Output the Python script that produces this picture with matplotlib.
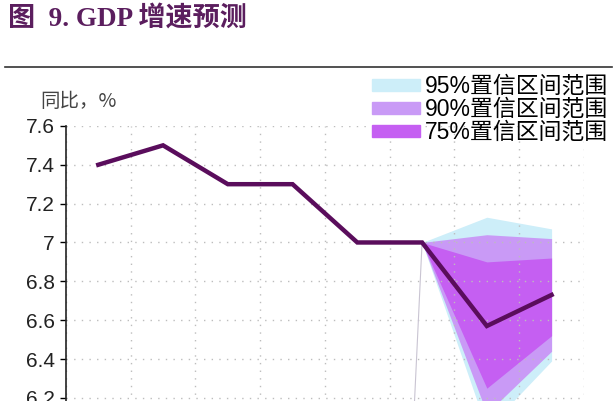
import numpy as np
import matplotlib.pyplot as plt
from matplotlib.patches import Patch
from matplotlib.lines import Line2D

# GDP growth, yoy %
gdp = [7.4, 7.5, 7.3, 7.3, 7.0, 7.0, 6.57, 6.73]

# fan chart bands (start at last actual point)
fan_x = [5, 6, 7]
ci95_hi = [7.0, 7.13, 7.07]
ci95_lo = [7.0, 6.04, 6.39]
ci90_hi = [7.0, 7.04, 7.02]
ci90_lo = [7.0, 6.12, 6.44]
ci75_hi = [7.0, 6.90, 6.92]
ci75_lo = [7.0, 6.25, 6.52]

# stacked-area base edge left over in the original
base_x = [4, 5]
base_y = [0.0, 7.0]

yticks = [5.8, 6.0, 6.2, 6.4, 6.6, 6.8, 7.0, 7.2, 7.4, 7.6]
ytick_labels = ['5.8', '6', '6.2', '6.4', '6.6', '6.8', '7', '7.2', '7.4', '7.6']

latin = ['Liberation Sans', 'Noto Sans CJK SC']

fig = plt.figure(figsize=(6.16, 4.01), dpi=100)
ax = fig.add_axes([0.107, -0.186, 0.841, 0.872])

x = np.arange(len(gdp))

# fan
ax.fill_between(fan_x, ci95_lo, ci95_hi, color='#cdeef9', lw=0)
ax.fill_between(fan_x, ci90_lo, ci90_hi, color='#c99af6', lw=0)
ax.fill_between(fan_x, ci75_lo, ci75_hi, color='#c55ff2', lw=0)
ax.plot(base_x, base_y, color='#c9c4d2', lw=0.8)

# main line
ax.plot(x, gdp, color='#5a0d5c', lw=3.2, solid_joinstyle='miter', zorder=5)

ax.set_xlim(-0.5, 7.5)
ax.set_ylim(5.8, 7.6)
ax.set_yticks(yticks)
ax.set_yticklabels(ytick_labels, family=latin, fontsize=15, color='#222222')
ax.set_xticks(np.arange(-0.5, 7.6, 1.0))
ax.set_xticklabels([])
ax.tick_params(axis='x', length=0)
ax.tick_params(axis='y', length=4, width=1, direction='out', pad=4)

ax.grid(True, color='#bdbdbd', linestyle=(0, (1, 4.5)), lw=1)
for s in ['top', 'right', 'bottom']:
    ax.spines[s].set_visible(False)
ax.spines['left'].set_color('#222222')
ax.spines['left'].set_linewidth(1.2)

# legend
handles = [Patch(color='#cdeef9'), Patch(color='#c99af6'), Patch(color='#c55ff2')]
labels = ['95%置信区间范围', '90%置信区间范围', '75%置信区间范围']
fig.legend(handles, labels, loc='upper left', bbox_to_anchor=(372 / 616, 1 - 75 / 401),
           frameon=False, prop={'family': latin, 'size': 16.5}, handlelength=2.1,
           handleheight=0.45, labelspacing=0.0, handletextpad=0.2, borderpad=0,
           borderaxespad=0)

# title and unit
fig.text(8 / 616, 1 - 19 / 401, '图  9. GDP 增速预测', family=['Liberation Serif', 'Noto Sans CJK SC'],
         fontsize=19.5, fontweight='bold', color='#5b1e5e', va='center', ha='left')
fig.add_artist(Line2D([5 / 616, 612 / 616], [1 - 67 / 401, 1 - 67 / 401], color='#333333', lw=1.2))
fig.text(40 / 616, 1 - 102 / 401, '同比，%', family=['Noto Sans CJK SC', 'Liberation Sans'],
         fontsize=14, color='#444444', va='center', ha='left')

fig.savefig('out.png', dpi=100)
